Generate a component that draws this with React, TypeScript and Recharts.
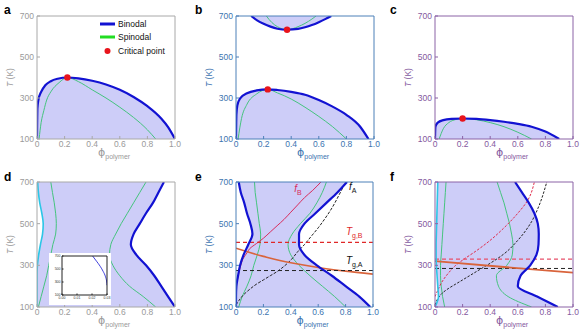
import React from 'react';
import { ComposedChart, Line, Area, XAxis, YAxis, ReferenceLine, ReferenceDot } from 'recharts';

const FONT = '"Liberation Sans", Arial, sans-serif';
const FILL = '#cdcdf8';
const BIN = '#1212d2';
const SPIN = '#45c47e';
const CYAN = '#2cc6e6';
const RED = '#e8141c';
const ORANGE = '#d9643c';

const GRAY = { axis: '#a8a8a8', text: '#9a9a9a' };
const BLUE = { axis: '#4d80b8', text: '#3c74b0' };
const PURPLE = { axis: '#8b63a6', text: '#8459a0' };

const phiTicks = [0, 0.2, 0.4, 0.6, 0.8, 1.0];
const tempTicks = [100, 300, 500, 700];

// panel a
const aBinodalX = [0, 0.003, 0.01, 0.03, 0.06, 0.1, 0.15, 0.22, 0.3, 0.4, 0.5, 0.6, 0.7, 0.8, 0.9, 0.95, 1.0];
const aBinodalT = [100, 250, 290, 330, 362, 382, 394, 400, 396, 384, 366, 340, 305, 260, 200, 158, 100];
const aSpinodalX = [0.015, 0.03, 0.05, 0.07, 0.1, 0.16, 0.22, 0.3, 0.4, 0.5, 0.6, 0.7, 0.8, 0.86];
const aSpinodalT = [100, 180, 240, 290, 330, 375, 400, 380, 340, 300, 255, 205, 145, 100];

// panel b
const bLowBinodalX = [0, 0.003, 0.01, 0.03, 0.08, 0.15, 0.23, 0.3, 0.4, 0.5, 0.6, 0.7, 0.8, 0.9, 0.96];
const bLowBinodalT = [100, 220, 265, 298, 323, 337, 342, 339, 330, 316, 290, 258, 218, 160, 100];
const bLowSpinodalX = [0.015, 0.04, 0.08, 0.15, 0.23, 0.3, 0.4, 0.5, 0.6, 0.7, 0.8];
const bLowSpinodalT = [100, 200, 270, 320, 342, 325, 295, 255, 210, 160, 100];
const bUpBinodalX = [0.11, 0.15, 0.2, 0.25, 0.3, 0.37, 0.45, 0.5, 0.55, 0.6, 0.65, 0.69];
const bUpBinodalT = [700, 680, 662, 648, 638, 633, 637, 645, 656, 670, 686, 700];
const bUpSpinodalX = [0.22, 0.26, 0.3, 0.37, 0.45, 0.5, 0.55, 0.58];
const bUpSpinodalT = [700, 668, 648, 633, 648, 664, 685, 700];

// panel c
const cBinodalX = [0, 0.003, 0.02, 0.06, 0.12, 0.2, 0.3, 0.4, 0.5, 0.6, 0.7, 0.8, 0.9];
const cBinodalT = [100, 160, 180, 192, 198, 200, 198, 192, 184, 174, 160, 136, 100];
const cSpinodalX = [0.03, 0.06, 0.1, 0.15, 0.2, 0.3, 0.4, 0.5, 0.6, 0.7];
const cSpinodalT = [100, 150, 180, 195, 200, 194, 180, 160, 133, 100];

// bottom panels share a temperature grid
const temps = [100, 150, 200, 250, 300, 350, 400, 450, 500, 550, 600, 650, 700];

const dLeftBinodal = [0, 0, 0, 0, 0.003, 0.012, 0.025, 0.04, 0.045, 0.035, 0.02, 0.01, 0.005];
const dRightBinodal = [1.0, 0.95, 0.9, 0.85, 0.79, 0.72, 0.68, 0.7, 0.745, 0.79, 0.84, 0.88, 0.92];
const dLeftSpinodal = [0.01, 0.03, 0.05, 0.07, 0.085, 0.1, 0.115, 0.135, 0.14, 0.135, 0.125, 0.112, 0.1];
const dRightSpinodal = [0.86, 0.77, 0.67, 0.6, 0.55, 0.525, 0.535, 0.57, 0.61, 0.655, 0.7, 0.745, 0.79];
const insetX = [0.0204, 0.023, 0.0255, 0.0275, 0.029, 0.0298, 0.03];
const insetT = [700, 620, 540, 460, 380, 300, 250];

const eLeftBinodal = [0, 0, 0.003, 0.015, 0.03, 0.055, 0.09, 0.12, 0.105, 0.08, 0.06, 0.035, 0.02];
const eRightBinodal = [0.98, 0.9, 0.8, 0.7, 0.59, 0.5, 0.46, 0.46, 0.5, 0.58, 0.66, 0.74, 0.81];
const eLeftSpinodal = [0.02, 0.045, 0.08, 0.11, 0.13, 0.155, 0.175, 0.18, 0.17, 0.16, 0.15, 0.14, 0.135];
const eRightSpinodal = [0.8, 0.72, 0.63, 0.54, 0.46, 0.4, 0.38, 0.41, 0.47, 0.54, 0.59, 0.63, 0.66];
const eFbX = [0, 0.01, 0.02, 0.035, 0.05, 0.08, 0.1, 0.15, 0.2, 0.25, 0.3, 0.35, 0.4, 0.45, 0.5, 0.56, 0.62];
const eFbT = [200, 230, 260, 300, 330, 360, 380, 405, 430, 460, 490, 520, 555, 590, 625, 660, 700];
const eFaX = [0, 0.02, 0.05, 0.1, 0.15, 0.2, 0.25, 0.3, 0.35, 0.4, 0.45, 0.5, 0.55, 0.6, 0.65, 0.7, 0.75, 0.8];
const eFaT = [110, 130, 155, 185, 210, 230, 250, 270, 295, 325, 365, 400, 440, 480, 525, 575, 635, 700];
const eOrangeX = [0, 0.2, 0.4, 0.6, 0.8, 1.0];
const eOrangeT = [382, 343, 312, 290, 272, 258];
const eTgB = 410;
const eTgA = 275;

const fLeftBinodal = [0, 0.025, 0.02, 0.015, 0.01, 0.008, 0.008, 0.01, 0.012, 0.014, 0.016, 0.018, 0.02];
const fRightBinodal = [0.89, 0.74, 0.6, 0.62, 0.69, 0.735, 0.75, 0.752, 0.745, 0.72, 0.68, 0.63, 0.58];
const fLeftSpinodal = [0.07, 0.055, 0.045, 0.04, 0.04, 0.045, 0.05, 0.055, 0.06, 0.065, 0.07, 0.075, 0.08];
const fRightSpinodal = [0.7, 0.53, 0.46, 0.445, 0.52, 0.56, 0.565, 0.555, 0.54, 0.52, 0.5, 0.475, 0.45];
const fRedX = [0, 0.02, 0.05, 0.1, 0.15, 0.2, 0.3, 0.4, 0.5, 0.6, 0.67, 0.72];
const fRedT = [150, 180, 220, 265, 300, 325, 370, 420, 480, 550, 610, 700];
const fBlackX = [0, 0.02, 0.05, 0.1, 0.15, 0.2, 0.25, 0.3, 0.35, 0.4, 0.5, 0.6, 0.7, 0.75, 0.81];
const fBlackT = [110, 140, 165, 190, 210, 230, 250, 270, 290, 310, 355, 420, 510, 580, 700];
const fOrangeX = [0, 0.5, 1.0];
const fOrangeT = [320, 292, 265];
const fTgRed = 330;
const fTgBlack = 285;

const pts = (xs: number[], ts: number[]) => xs.map((x, i) => ({ x, T: ts[i] }));
const band = (ts: number[], lo: number[], hi: number[]) => ts.map((T, i) => ({ T, band: [lo[i], hi[i]] }));

type Theme = { axis: string; text: string };
type Box = { l: number; t: number; r: number; b: number };

const boxes: Record<string, Box> = {
  a: { l: 37, t: 16, r: 175, b: 139 },
  b: { l: 236, t: 16, r: 374, b: 139 },
  c: { l: 435, t: 16, r: 573, b: 139 },
  d: { l: 37, t: 182, r: 175, b: 307 },
  e: { l: 236, t: 182, r: 373, b: 307 },
  f: { l: 435, t: 182, r: 573, b: 307 },
};

const MARGIN = { top: 16, right: 10, left: 10, bottom: 4 };

const fmtPhi = (v: number) => (v === 0 ? '0' : v.toFixed(1));

const phiLabel = (color: string) => (props: any) => {
  const vb = props.viewBox;
  return (
    <text x={vb.x + vb.width / 2 - 8} y={vb.y + 17} fill={color} fontFamily={FONT} textAnchor="start">
      <tspan fontSize={11} fontFamily="DejaVu Sans">ϕ</tspan>
      <tspan fontSize={7} dy={3}>polymer</tspan>
    </text>
  );
};

const tLabel = (color: string) => (props: any) => {
  const vb = props.viewBox;
  const x = vb.x + vb.width - 27;
  const y = vb.y + vb.height / 2;
  return (
    <text x={x} y={y} fill={color} fontFamily={FONT} fontSize={8.5} textAnchor="middle" dominantBaseline="central" transform={`rotate(-90 ${x} ${y})`}>
      <tspan fontStyle="italic">T</tspan> (K)
    </text>
  );
};

function axes(c: Theme, vertical: boolean) {
  return [
    <XAxis
      key="x"
      type="number"
      dataKey={vertical ? undefined : 'x'}
      domain={[0, 1]}
      ticks={phiTicks}
      allowDataOverflow
      height={26}
      stroke={c.axis}
      tickSize={-3}
      tickMargin={5}
      tick={{ fill: c.text, fontSize: 8.5, fontFamily: FONT }}
      tickFormatter={fmtPhi}
      interval={0}
      label={phiLabel(c.text)}
    />,
    <YAxis
      key="y"
      type="number"
      dataKey={vertical ? 'T' : undefined}
      domain={[100, 700]}
      ticks={tempTicks}
      reversed={vertical}
      allowDataOverflow
      width={30}
      stroke={c.axis}
      tickSize={-3}
      tickMargin={6}
      tick={{ fill: c.text, fontSize: 8.5, fontFamily: FONT }}
      interval={0}
      label={tLabel(c.text)}
    />,
  ];
}

function frame(c: Theme) {
  return [
    <ReferenceLine key="top" y={700} stroke={c.axis} strokeWidth={1} />,
    <ReferenceLine key="right" x={1} stroke={c.axis} strokeWidth={1} />,
  ];
}

function place(box: Box): React.CSSProperties {
  return { position: 'absolute', left: box.l - 40, top: box.t - 16 };
}
const sizeOf = (box: Box) => ({ width: box.r - box.l + 50, height: box.b - box.t + 46 });

const annot = (main: string, sub: string, color: string) => (props: any) => {
  const vb = props.viewBox;
  return (
    <text x={vb.x} y={vb.y} fill={color} fontFamily={FONT} fontSize={10} textAnchor="middle">
      <tspan fontStyle="italic">{main}</tspan>
      <tspan fontSize={7} dy={3}>{sub}</tspan>
    </text>
  );
};

const line = (data: any[], key: string, stroke: string, width: number, dash?: string, k?: string) => (
  <Line
    key={k}
    data={data}
    dataKey={key}
    type="monotone"
    stroke={stroke}
    strokeWidth={width}
    strokeDasharray={dash}
    dot={false}
    activeDot={false}
    isAnimationActive={false}
  />
);

const Letter = ({ ch, x, y }: { ch: string; x: number; y: number }) => (
  <div style={{ position: 'absolute', left: x, top: y, fontFamily: FONT, fontWeight: 700, fontSize: 12, lineHeight: '12px', color: '#000' }}>{ch}</div>
);

const LegendA = () => (
  <div style={{ position: 'absolute', left: 99, top: 17, fontFamily: FONT, fontSize: 8.5, color: '#111' }}>
    {[
      { name: 'Binodal', kind: 'bin' },
      { name: 'Spinodal', kind: 'spin' },
      { name: 'Critical point', kind: 'dot' },
    ].map((r) => (
      <div key={r.name} style={{ display: 'flex', alignItems: 'center', height: 13.5 }}>
        <svg width={17} height={8} style={{ marginRight: 2 }}>
          {r.kind === 'bin' && <line x1={1} y1={4} x2={16} y2={4} stroke={BIN} strokeWidth={3} />}
          {r.kind === 'spin' && <line x1={1} y1={4} x2={16} y2={4} stroke="#22dd22" strokeWidth={3} />}
          {r.kind === 'dot' && <circle cx={8.5} cy={4} r={3} fill={RED} />}
        </svg>
        <span>{r.name}</span>
      </div>
    ))}
  </div>
);

export default function App() {
  const A = boxes.a, B = boxes.b, C = boxes.c, D = boxes.d, E = boxes.e, F = boxes.f;
  const aBin = pts(aBinodalX, aBinodalT);
  const bLow = pts(bLowBinodalX, bLowBinodalT);
  const bUp = pts(bUpBinodalX, bUpBinodalT);
  const bUpBand = bUpBinodalX.map((x, i) => ({ x, band: [bUpBinodalT[i], 700] }));
  const cBin = pts(cBinodalX, cBinodalT);
  const rows = (xs: number[]) => pts(xs, temps);

  return (
    <div style={{ position: 'absolute', left: 0, top: 0, width: 580, height: 335, overflow: 'hidden', background: '#fff' }}>
      {/* a */}
      <div style={place(A)}>
        <ComposedChart {...sizeOf(A)} margin={MARGIN}>
          {axes(GRAY, false)}
          <Area data={aBin} dataKey="T" type="monotone" baseValue={100} fill={FILL} fillOpacity={1} stroke="none" isAnimationActive={false} />
          {line(pts(aSpinodalX, aSpinodalT), 'T', SPIN, 1)}
          {line(aBin, 'T', BIN, 2.2)}
          <ReferenceDot x={0.22} y={400} r={3.2} fill={RED} stroke="none" />
          {frame(GRAY)}
        </ComposedChart>
      </div>
      <LegendA />

      {/* b */}
      <div style={place(B)}>
        <ComposedChart {...sizeOf(B)} margin={MARGIN}>
          {axes(BLUE, false)}
          <Area data={bLow} dataKey="T" type="monotone" baseValue={100} fill={FILL} fillOpacity={1} stroke="none" isAnimationActive={false} />
          <Area data={bUpBand} dataKey="band" type="monotone" fill={FILL} fillOpacity={1} stroke="none" isAnimationActive={false} />
          {line(pts(bLowSpinodalX, bLowSpinodalT), 'T', SPIN, 1)}
          {line(pts(bUpSpinodalX, bUpSpinodalT), 'T', SPIN, 1)}
          {line(bLow, 'T', BIN, 2.2)}
          {line(bUp, 'T', BIN, 2.2)}
          <ReferenceDot x={0.23} y={342} r={3.2} fill={RED} stroke="none" />
          <ReferenceDot x={0.37} y={633} r={3.2} fill={RED} stroke="none" />
          {frame(BLUE)}
        </ComposedChart>
      </div>

      {/* c */}
      <div style={place(C)}>
        <ComposedChart {...sizeOf(C)} margin={MARGIN}>
          {axes(PURPLE, false)}
          <Area data={cBin} dataKey="T" type="monotone" baseValue={100} fill={FILL} fillOpacity={1} stroke="none" isAnimationActive={false} />
          {line(pts(cSpinodalX, cSpinodalT), 'T', SPIN, 1)}
          {line(cBin, 'T', BIN, 2.2)}
          <ReferenceDot x={0.2} y={200} r={3.2} fill={RED} stroke="none" />
          {frame(PURPLE)}
        </ComposedChart>
      </div>

      {/* d */}
      <div style={place(D)}>
        <ComposedChart {...sizeOf(D)} margin={MARGIN} layout="vertical">
          {axes(GRAY, true)}
          <Area data={band(temps, dLeftBinodal, dRightBinodal)} dataKey="band" type="monotone" fill={FILL} fillOpacity={1} stroke="none" isAnimationActive={false} />
          {line(rows(dLeftSpinodal), 'x', SPIN, 1)}
          {line(rows(dRightSpinodal), 'x', SPIN, 1)}
          {line(rows(dLeftBinodal), 'x', CYAN, 1.6)}
          {line(rows(dRightBinodal), 'x', BIN, 2.2)}
          {frame(GRAY)}
        </ComposedChart>
      </div>
      <div style={{ position: 'absolute', left: 49, top: 253, width: 62, height: 52, background: '#fff' }}>
        <ComposedChart width={62} height={52} margin={{ top: 3, right: 4, left: 2, bottom: 0 }}>
          <XAxis type="number" dataKey="x" domain={[0, 0.03]} ticks={[0, 0.01, 0.02, 0.03]} allowDataOverflow height={10} stroke="#222" tickSize={-1.5} tickMargin={3} tick={{ fill: '#333', fontSize: 3.5, fontFamily: FONT }} tickFormatter={(v: number) => v.toFixed(2)} interval={0} />
          <YAxis type="number" domain={[100, 700]} ticks={tempTicks} allowDataOverflow width={11} stroke="#222" tickSize={-1.5} tickMargin={3} tick={{ fill: '#333', fontSize: 3.5, fontFamily: FONT }} interval={0} />
          {line(pts(insetX, insetT), 'T', BIN, 0.8)}
          <ReferenceLine y={700} stroke="#222" />
          <ReferenceLine x={0.03} stroke="#222" />
        </ComposedChart>
      </div>

      {/* e */}
      <div style={place(E)}>
        <ComposedChart {...sizeOf(E)} margin={MARGIN} layout="vertical">
          {axes(BLUE, true)}
          <Area data={band(temps, eLeftBinodal, eRightBinodal)} dataKey="band" type="monotone" fill={FILL} fillOpacity={1} stroke="none" isAnimationActive={false} />
          {line(rows(eLeftSpinodal), 'x', SPIN, 1)}
          {line(rows(eRightSpinodal), 'x', SPIN, 1)}
          {line(pts(eFbX, eFbT), 'x', '#d82c5c', 1)}
          {line(pts(eFaX, eFaT), 'x', '#222', 1, '3 1.5')}
          {line(pts(eOrangeX, eOrangeT), 'x', ORANGE, 1.6)}
          <ReferenceLine y={eTgB} stroke="#e02828" strokeWidth={1.2} strokeDasharray="4 3" />
          <ReferenceLine y={eTgA} stroke="#222" strokeWidth={1} strokeDasharray="4 3" />
          {line(rows(eLeftBinodal), 'x', BIN, 2.2)}
          {line(rows(eRightBinodal), 'x', BIN, 2.2)}
          <ReferenceDot x={0.46} y={648} r={1} fill="none" stroke="none" label={annot('f', 'B', '#d82c5c')} />
          <ReferenceDot x={0.86} y={655} r={1} fill="none" stroke="none" label={annot('f', 'A', '#111')} />
          <ReferenceDot x={0.87} y={440} r={1} fill="none" stroke="none" label={annot('T', 'g,B', '#e02828')} />
          <ReferenceDot x={0.87} y={303} r={1} fill="none" stroke="none" label={annot('T', 'g,A', '#111')} />
          {frame(BLUE)}
        </ComposedChart>
      </div>

      {/* f */}
      <div style={place(F)}>
        <ComposedChart {...sizeOf(F)} margin={MARGIN} layout="vertical">
          {axes(PURPLE, true)}
          <Area data={band(temps, fLeftBinodal, fRightBinodal)} dataKey="band" type="monotone" fill={FILL} fillOpacity={1} stroke="none" isAnimationActive={false} />
          {line(rows(fLeftSpinodal), 'x', SPIN, 1)}
          {line(rows(fRightSpinodal), 'x', SPIN, 1)}
          {line(pts(fRedX, fRedT), 'x', '#e02a4a', 1, '2.5 1.5')}
          {line(pts(fBlackX, fBlackT), 'x', '#222', 1, '2.5 1.5')}
          <ReferenceLine y={fTgRed} stroke="#e8506a" strokeWidth={1.2} strokeDasharray="4 3" />
          <ReferenceLine y={fTgBlack} stroke="#222" strokeWidth={1} strokeDasharray="4 3" />
          {line(pts(fOrangeX, fOrangeT), 'x', ORANGE, 1.8)}
          {line(rows(fLeftBinodal), 'x', CYAN, 1.6)}
          {line(rows(fRightBinodal), 'x', BIN, 2.2)}
          {frame(PURPLE)}
        </ComposedChart>
      </div>

      <Letter ch="a" x={4} y={4} />
      <Letter ch="b" x={195} y={4} />
      <Letter ch="c" x={390} y={4} />
      <Letter ch="d" x={4} y={171} />
      <Letter ch="e" x={195} y={171} />
      <Letter ch="f" x={390} y={171} />
    </div>
  );
}
